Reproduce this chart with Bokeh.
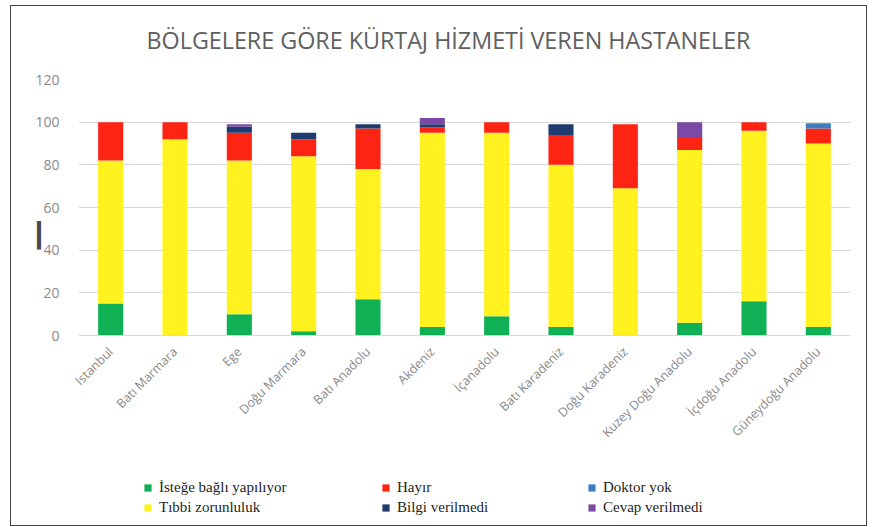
import math
from bokeh.plotting import figure
from bokeh.layouts import column
from bokeh.models import FactorRange, Range1d, Legend, LegendItem, ColumnDataSource, Label
from bokeh.embed import file_html
from bokeh.resources import INLINE

regions = ["Istanbul", "Batı Marmara", "Ege", "Doğu Marmara", "Batı Anadolu", "Akdeniz",
           "İçanadolu", "Batı Karadeniz", "Doğu Karadeniz", "Kuzey Doğu Anadolu",
           "İçdoğu Anadolu", "Güneydoğu Anadolu"]

istege_bagli = [15, 0, 10, 2, 17, 4, 9, 4, 0, 6, 16, 4]
tibbi_zorunluluk = [67, 92, 72, 82, 61, 91, 86, 76, 69, 81, 80, 86]
hayir = [18, 8, 13, 8, 19, 2.5, 5, 14, 30, 6, 4, 7]
doktor_yok = [0, 0, 0, 0, 0, 0, 0, 0, 0, 0, 0, 2.5]
bilgi_verilmedi = [0, 0, 3, 3, 2, 1.5, 0, 5, 0, 0, 0, 0]
cevap_verilmedi = [0, 0, 1, 0, 0, 3, 0, 0, 0, 7, 0, 0]

title_text = "BÖLGELERE GÖRE KÜRTAJ HİZMETİ VEREN HASTANELER"
series_names = ["İsteğe bağlı yapılıyor", "Tıbbi zorunluluk", "Hayır",
                "Doktor yok", "Bilgi verilmedi", "Cevap verilmedi"]
y_ticks = [0, 20, 40, 60, 80, 100, 120]

keys = ["istege", "tibbi", "hayir", "doktor", "bilgi", "cevap"]
colors = ["#10b055", "#fff21f", "#fe2414", "#3d7cc0", "#1f3a6e", "#7b4aa6"]

source = ColumnDataSource(dict(region=regions, istege=istege_bagli, tibbi=tibbi_zorunluluk,
                               hayir=hayir, doktor=doktor_yok, bilgi=bilgi_verilmedi,
                               cevap=cevap_verilmedi))

W = 855
H0 = 50
FRAME_W = 772

# title strip (its frame is aligned with the chart's frame by the column layout)
p0 = figure(width=W, height=H0, x_range=Range1d(0, FRAME_W), y_range=Range1d(0, H0),
            output_backend="svg", toolbar_location=None, title=None,
            x_axis_type=None, y_axis_type=None,
            min_border=0, min_border_left=0, min_border_right=0,
            min_border_top=0, min_border_bottom=0)
p0.outline_line_color = None
p0.xgrid.visible = False
p0.ygrid.visible = False
p0.add_layout(Label(x=370, y=17, text=title_text, text_align="center",
                    text_baseline="middle", text_font="Open Sans",
                    text_font_size="23.3px", text_color="#606060"))

# main chart
p = figure(x_range=FactorRange(*regions), y_range=Range1d(0, 120),
           width=W, height=464 - H0, output_backend="svg", toolbar_location=None, title=None,
           min_border_left=67, min_border_right=16, min_border_top=73 - H0,
           min_border_bottom=135)

p.vbar_stack(keys, x="region", width=0.39, color=colors, line_color=None, source=source)

p.outline_line_color = None
p.xgrid.grid_line_color = None
p.ygrid.grid_line_color = "#d9d9d9"

p.yaxis.ticker = y_ticks
p.yaxis.axis_line_color = None
p.yaxis.major_tick_line_color = None
p.yaxis.minor_tick_line_color = None
p.yaxis.major_label_standoff = 13
p.yaxis.major_label_text_font = "Open Sans"
p.yaxis.major_label_text_font_size = "14px"
p.yaxis.major_label_text_color = "#8a8a8a"
p.yaxis.axis_label = "\u2014" + "\u00a0" * 5
p.yaxis.axis_label_text_font = "DejaVu Sans"
p.yaxis.axis_label_text_font_style = "bold"
p.yaxis.axis_label_text_font_size = "32px"
p.yaxis.axis_label_text_color = "#4a4a4a"
p.yaxis.axis_label_standoff = -24

p.xaxis.axis_line_color = "#d9d9d9"
p.xaxis.major_tick_line_color = None
p.xaxis.minor_tick_line_color = None
p.xaxis.major_label_orientation = math.pi / 4
p.xaxis.major_label_standoff = 8
p.xaxis.major_label_text_font = "Open Sans"
p.xaxis.major_label_text_font_size = "12.5px"
p.xaxis.major_label_text_color = "#8a8a8a"

# legend strip (its bars lie outside its visible range; only the legend shows)
p2 = figure(width=W, height=55, x_range=FactorRange(*regions), y_range=Range1d(200, 201),
            output_backend="svg", toolbar_location=None, title=None,
            x_axis_type=None, y_axis_type=None,
            min_border=0, min_border_left=0, min_border_right=0,
            min_border_top=0, min_border_bottom=0)
p2.outline_line_color = None
p2.xgrid.visible = False
p2.ygrid.visible = False

leg_renderers = p2.vbar_stack(keys, x="region", width=0.39, color=colors, line_color=None,
                              source=source)
items = [LegendItem(label=n, renderers=[r]) for n, r in zip(series_names, leg_renderers)]
groups = [([items[0], items[1]], (65, 8)),
          ([items[2], items[4]], (303, 8)),
          ([items[3], items[5]], (509, 8))]
for its, loc in groups:
    leg = Legend(items=its, location=loc, orientation="vertical",
                 border_line_color=None, background_fill_alpha=0,
                 padding=0, margin=0, spacing=0,
                 glyph_width=9, glyph_height=9, label_height=20, label_standoff=7,
                 label_text_font="Liberation Serif", label_text_font_size="15px",
                 label_text_color="#231f20")
    p2.add_layout(leg, "center")

layout = column(p0, p, p2, spacing=0)
layout.styles = {"border": "1px solid #444", "margin-left": "10px", "margin-top": "5px"}

open("out.html", "w").write(file_html(layout, INLINE))
